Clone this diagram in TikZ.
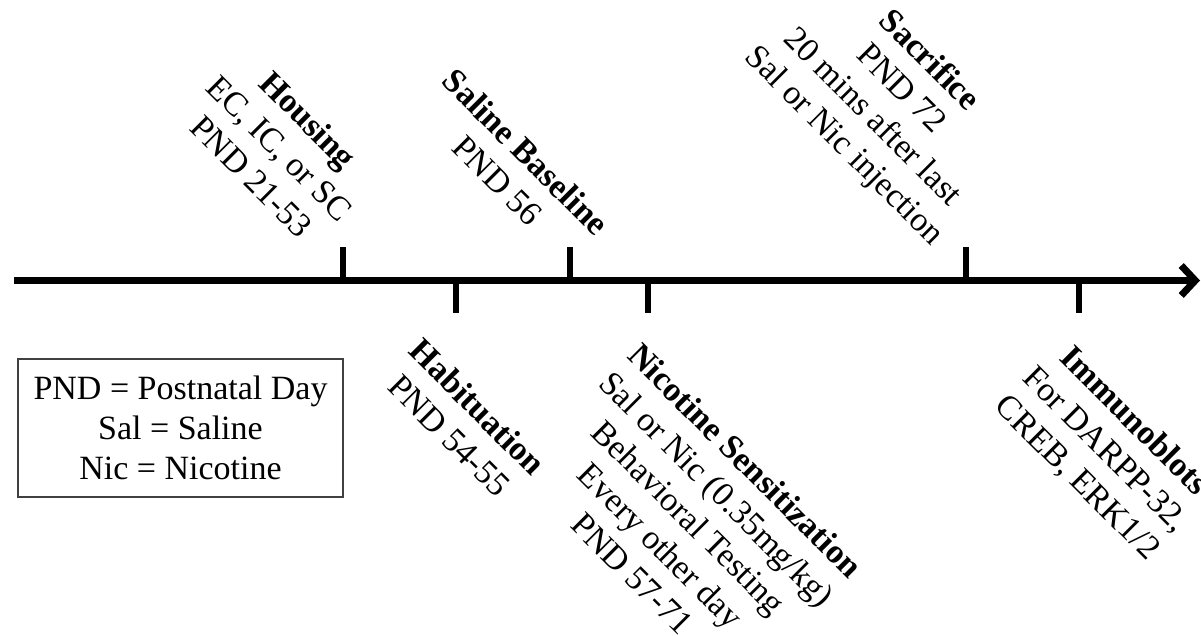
\documentclass[tikz,border=0pt]{standalone}
\usepackage{fontspec}
\setmainfont{Liberation Serif}
\usetikzlibrary{arrows.meta}

\begin{document}
\begin{tikzpicture}[x=1pt, y=-1pt,
    every node/.style={font=\fontsize{34}{40}\selectfont, inner sep=0pt},
    event/.style={rotate=-45, align=center},
    tick/.style={line width=6.5pt},
    timeline/.style={line width=7pt, -{Straight Barb[length=14pt, width=30pt]}}]
                \useasboundingbox (0,0) rectangle (1201,635);

                % Time axis
                \coordinate (start) at (14,280.5);
                \coordinate (end) at (1200,280.5);
                \draw[timeline] (start) -- (end);

                % Ticks above the axis
                \foreach \x in {343,570,966} {
                    \draw[tick] (\x,247) -- (\x,280.5);
                }

                % Ticks below the axis
                \foreach \x in {456,648,1079} {
                    \draw[tick] (\x,280.5) -- (\x,313);
                }

                % Events above the axis
                \node[event] (housing) at (280,148) {\textbf{Housing}\\EC, IC, or SC\\PND 21-53};
                \node[event] (saline) at (512,166) {\textbf{Saline Baseline}\\PND 56};
                \node[event] (sacrifice) at (886,104) {\textbf{Sacrifice}\\PND 72\\20 mins after last\\Sal or Nic injection};

                % Events below the axis
                \node[event] (habit) at (463.5,421) {\textbf{Habituation}\\PND 54-55};
                \node[event] (nicotine) at (689,517) {\textbf{Nicotine Sensitization}\\Sal or Nic (0.35mg/kg)\\Behavioral Testing\\Every other day\\PND 57-71};
                \node[event] (immuno) at (1105,450) {\textbf{Immunoblots}\\For DARPP-32,\\CREB, ERK1/2};

                % Abbreviations
                \node[draw=black!75, line width=1.2pt, align=center, minimum width=325pt, minimum height=138pt] (legend) at (180.5,428) {PND = Postnatal Day\\Sal = Saline\\Nic = Nicotine};
\end{tikzpicture}
\end{document}
